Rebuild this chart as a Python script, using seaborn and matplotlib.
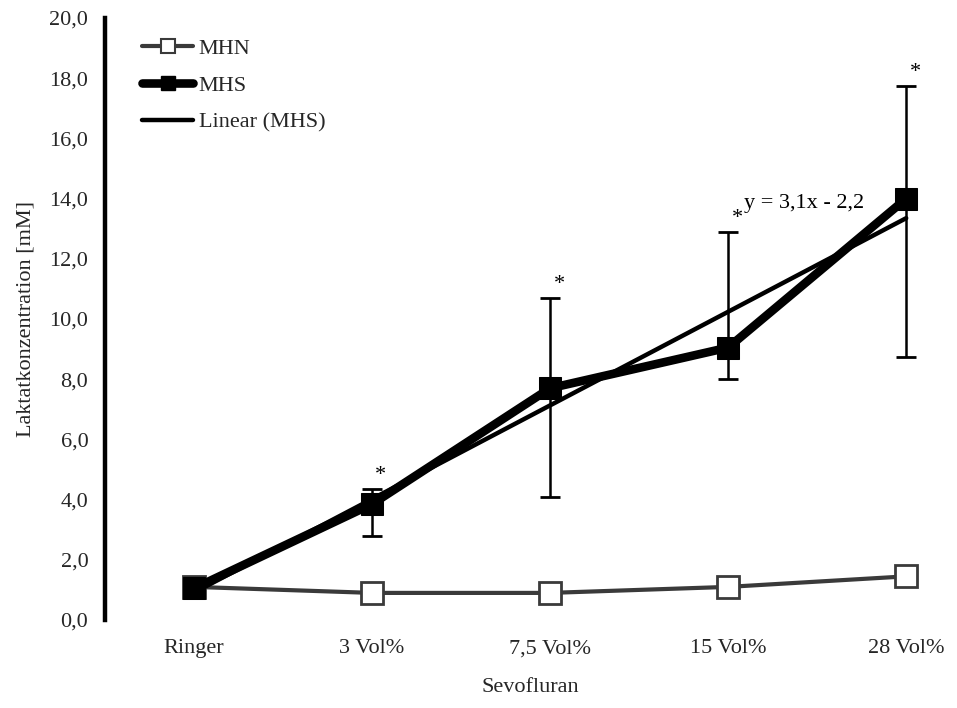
import numpy as np
import pandas as pd
import matplotlib
matplotlib.use("Agg")
import matplotlib.pyplot as plt
from matplotlib.lines import Line2D
import seaborn as sns

# Lactate concentration per sevoflurane concentration
categories = ["Ringer", "3 Vol%", "7,5 Vol%", "15 Vol%", "28 Vol%"]
mhn = [1.1, 0.9, 0.9, 1.1, 1.45]
mhs = [1.05, 3.85, 7.7, 9.05, 14.0]
mhs_err_low = [1.05, 2.8, 4.1, 8.0, 8.75]     # lower end of error bar
mhs_err_high = [1.05, 4.35, 10.7, 12.9, 17.75]  # upper end of error bar
significant = [False, True, True, True, True]
y_ticks = [0, 2, 4, 6, 8, 10, 12, 14, 16, 18, 20]

sns.set_theme(style="white")
plt.rcParams["font.family"] = ["Liberation Serif", "DejaVu Serif"]
FS = 16

pos = np.arange(len(categories))
df = pd.DataFrame({
    "pos": np.concatenate([pos, pos]),
    "value": mhn + mhs,
    "group": ["MHN"] * len(pos) + ["MHS"] * len(pos),
})

fig = plt.figure(figsize=(9.57, 7.08), dpi=100)
ax = fig.add_axes([0.1097, 0.1243, 0.8893, 0.8503])

# MHN series
sns.lineplot(data=df[df.group == "MHN"], x="pos", y="value", ax=ax,
             color="#3a3a3a", linewidth=3.0, marker="s", markersize=16,
             markerfacecolor="white", markeredgecolor="#3a3a3a",
             markeredgewidth=2.0, legend=False, zorder=3)

# error bars of MHS
lo = np.array(mhs) - np.array(mhs_err_low)
hi = np.array(mhs_err_high) - np.array(mhs)
ax.errorbar(pos[1:], np.array(mhs)[1:], yerr=[lo[1:], hi[1:]], fmt="none",
            ecolor="black", elinewidth=1.8, capsize=7, capthick=2.0, zorder=4)

# linear trend of MHS (x = 1..5)
xs = pos + 1
slope, intercept = np.polyfit(xs, mhs, 1)
sns.lineplot(x=pos, y=slope * xs + intercept, ax=ax, color="black",
             linewidth=3.2, legend=False, zorder=5)

# MHS series
sns.lineplot(data=df[df.group == "MHS"], x="pos", y="value", ax=ax,
             color="black", linewidth=6.2, marker="s", markersize=16,
             markerfacecolor="black", markeredgecolor="black",
             legend=False, zorder=6)

# significance markers
for p, top, s in zip(pos, mhs_err_high, significant):
    if s:
        ax.text(p + 0.05, top + 0.12, "*", ha="center", va="bottom",
                fontsize=FS, color="black")

eq = f"y = {slope:.1f}x - {abs(intercept):.1f}".replace(".", ",")
ax.text(3.09, 13.85, eq, ha="left", va="center", fontsize=FS, color="black")

ax.set_xlim(-0.5, 4.28)
ax.set_ylim(0, 20)
ax.set_xticks(pos)
ax.set_xticklabels(categories, fontsize=FS)
ax.set_yticks(y_ticks)
ax.set_yticklabels([f"{v:.1f}".replace(".", ",") for v in y_ticks], fontsize=FS)
ax.set_xlabel("Sevofluran", fontsize=FS, labelpad=14)
ax.set_ylabel("Laktatkonzentration [mM]", fontsize=FS, labelpad=10)

for side in ["top", "right", "bottom"]:
    ax.spines[side].set_visible(False)
ax.spines["left"].set_linewidth(3.2)
ax.spines["left"].set_color("black")
ax.tick_params(axis="y", direction="out", length=4, width=3.2, color="black", pad=8)
ax.tick_params(axis="x", length=0, pad=14)
ax.grid(False)

handles = [
    Line2D([], [], color="#3a3a3a", linewidth=3.0, marker="s", markersize=10,
           markerfacecolor="white", markeredgecolor="#3a3a3a", markeredgewidth=1.5),
    Line2D([], [], color="black", linewidth=6.2, marker="s", markersize=10,
           markerfacecolor="black"),
    Line2D([], [], color="black", linewidth=3.2),
]
ax.legend(handles, ["MHN", "MHS", "Linear (MHS)"], loc="upper left",
          bbox_to_anchor=(0.02, 1.0), frameon=False, fontsize=FS,
          handlelength=2.3, handletextpad=0.25, labelspacing=0.75)

fig.savefig("out.png", dpi=100)
